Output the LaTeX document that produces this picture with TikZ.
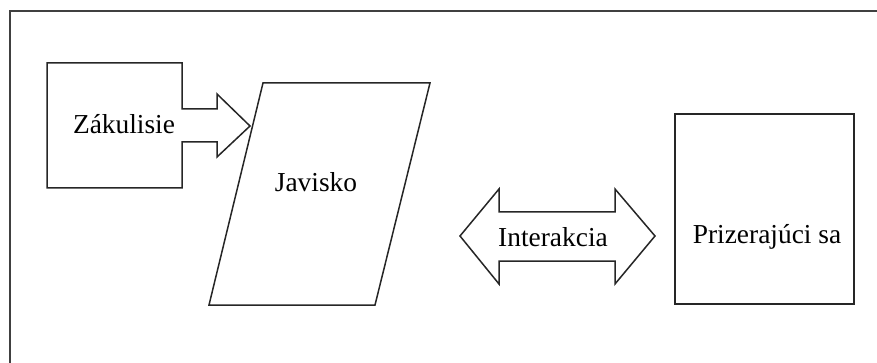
\documentclass[tikz,border=0pt]{standalone}
\usepackage{fontspec}
\setmainfont{Liberation Serif}
\begin{document}
\begin{tikzpicture}[x=0.5pt,y=-0.5pt,
  frameline/.style={draw=black!75,line width=1pt},
  shapeline/.style={draw=black!85,line width=0.75pt,line join=miter},
  lbl/.style={font=\fontsize{13.7}{16}\selectfont,inner sep=0pt}]
\useasboundingbox (0,0) rectangle (877,363);
% cropped outer frame
\draw[frameline] (9.5,363) -- (9.5,11.5) -- (877,11.5);
% Zakulisie box with arrow
\draw[shapeline] (47,63) -- (182,63) -- (182,109) -- (217,109) -- (217,94) -- (250,126)
  -- (217,157) -- (217,142) -- (182,142) -- (182,188) -- (47,188) -- cycle;
\node[lbl] (zak) at (124,124) {Zákulisie};
% Javisko parallelogram
\draw[shapeline] (263,83) -- (430,83) -- (375,305) -- (209,305) -- cycle;
\node[lbl] (jav) at (316,182) {Javisko};
% Interakcia double arrow
\draw[shapeline] (460,236) -- (499,189) -- (499,212) -- (615,212) -- (615,189) -- (655,236)
  -- (615,284) -- (615,261) -- (499,261) -- (499,284) -- cycle;
\node[lbl] (int) at (553,237) {Interakcia};
% Prizerajuci sa box
\draw[shapeline] (675,114) rectangle (854,304);
\node[lbl] (pri) at (767,237) {Prizerajúci sa};
\end{tikzpicture}
\end{document}
